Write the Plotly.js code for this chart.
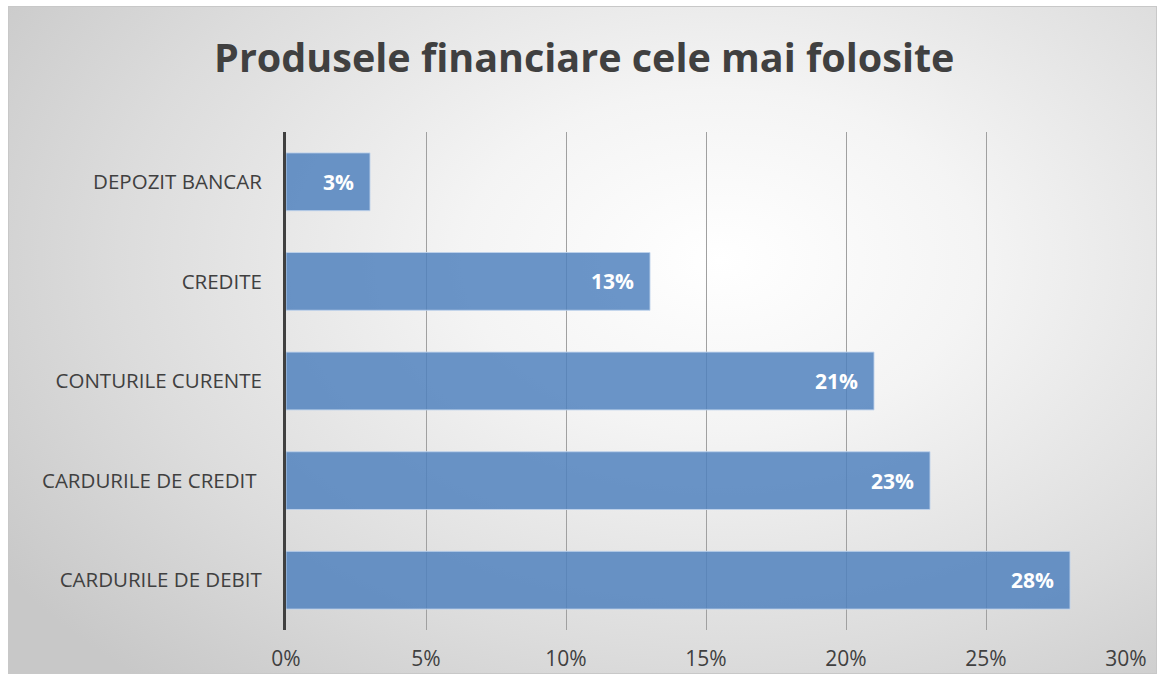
<!DOCTYPE html>
<html><head><meta charset="utf-8">
<script src="https://cdn.plot.ly/plotly-3.0.1.min.js"></script>
<style>
html,body{margin:0;padding:0;background:#fff;}
#wrap{position:absolute;left:8px;top:6px;width:1149px;height:668px;box-sizing:border-box;border:1px solid #c8c8c8;
background:radial-gradient(ellipse 75% 85% at 62% 38%, #ffffff 0%, #f4f4f4 30%, #dcdcdc 70%, #c8c8c8 100%);}
#chart{position:absolute;left:0;top:0;width:1157px;height:674px;}
</style></head>
<body>
<div id="wrap"></div>
<div id="chart"></div>
<script>
const categories = ["DEPOZIT BANCAR", "CREDITE", "CONTURILE CURENTE", "CARDURILE DE CREDIT ", "CARDURILE DE DEBIT"];
const values = [3, 13, 21, 23, 28];
const tickValues = [0, 5, 10, 15, 20, 25, 30];
const tickLabels = ["0%", "5%", "10%", "15%", "20%", "25%", "30%"];

const font = "'Open Sans', 'Liberation Sans', sans-serif";
const trace = {
  type: 'bar', orientation: 'h', x: values, y: categories,
  marker: {color: 'rgba(79,129,189,0.84)', line: {color: 'rgba(190,210,235,0.9)', width: 1}},
  hoverinfo: 'none'
};
const annotations = values.map((v, i) => ({
  x: v, y: categories[i], xref: 'x', yref: 'y', text: '<b>' + v + '%</b>',
  showarrow: false, xanchor: 'right', xshift: -14,
  font: {family: font, size: 21, color: '#ffffff'}
}));
const layout = {
  width: 1157, height: 674,
  margin: {l: 286, r: 31, t: 132, b: 44},
  paper_bgcolor: 'rgba(0,0,0,0)', plot_bgcolor: 'rgba(0,0,0,0)',
  title: {text: '<b>Produsele financiare cele mai folosite</b>', x: 0.505, xanchor: 'center', y: 0.913, yanchor: 'middle',
    font: {family: font, size: 39.5, color: '#404040'}},
  bargap: 0.42,
  xaxis: {range: [0, 30], tickvals: tickValues, ticktext: tickLabels, showgrid: true, gridcolor: '#a0a0a0', gridwidth: 1,
    zeroline: false, showline: false, ticks: '', tickfont: {family: font, size: 21, color: '#404040'}, ticklabelstandoff: 14, fixedrange: true},
  yaxis: {autorange: 'reversed', showline: true, linecolor: '#404040', linewidth: 3, ticks: '', showgrid: false,
    tickfont: {family: font, size: 20.5, color: '#404040'}, ticklabelstandoff: 17, fixedrange: true},
  annotations: annotations,
  showlegend: false
};
Plotly.newPlot('chart', [trace], layout, {displayModeBar: false, staticPlot: true});
</script>
</body></html>
